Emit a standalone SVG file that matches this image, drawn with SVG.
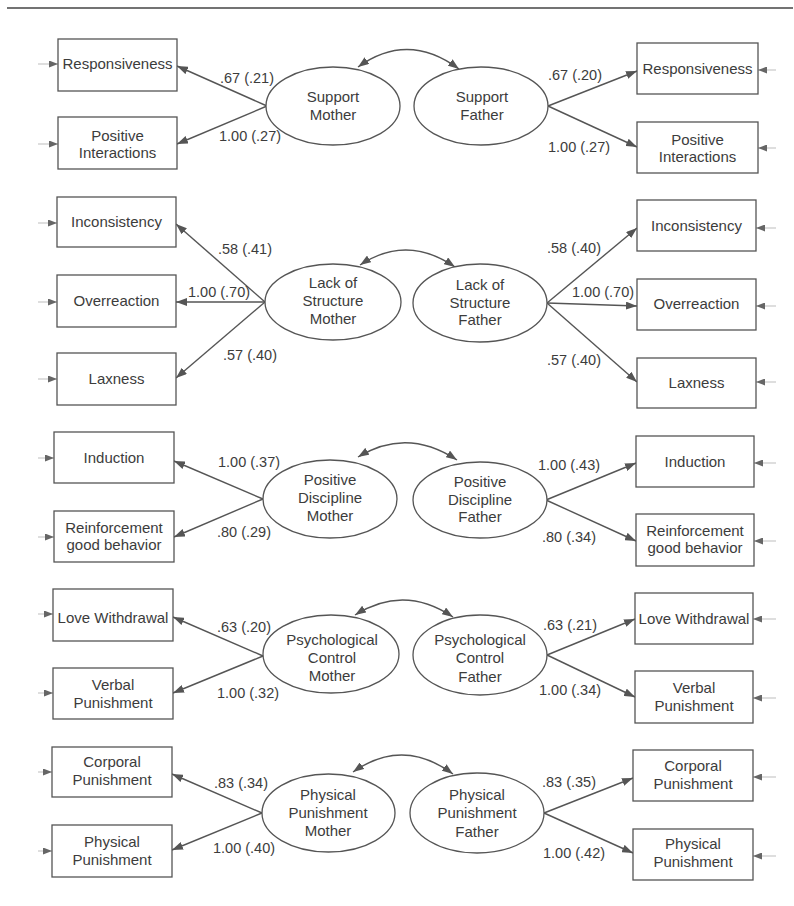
<svg xmlns="http://www.w3.org/2000/svg" width="794" height="906" viewBox="0 0 794 906">
<style>
text{font-family:"Liberation Sans",Arial,sans-serif;font-size:15px;fill:#3c3c3c}
.t{text-anchor:middle}
.lb{font-size:14.5px}
.box{fill:#fff;stroke:#555;stroke-width:1.3}
.lat{fill:#fff;stroke:#555;stroke-width:1.3}
.c{fill:none;stroke:#555;stroke-width:1.4}
.cc{fill:none;stroke:#555;stroke-width:1.4;marker-start:url(#ah);marker-end:url(#ah)}
.ld{marker-end:url(#ah)}
.st{fill:none;stroke:#c8c8c8;stroke-width:1.2;marker-end:url(#sh)}
</style>
<defs>
<marker id="ah" markerUnits="userSpaceOnUse" markerWidth="11" markerHeight="8" refX="11" refY="4" orient="auto-start-reverse"><path d="M0,0 L11,4 L0,8 z" fill="#555"/></marker>
<marker id="sh" markerUnits="userSpaceOnUse" markerWidth="9" markerHeight="7" refX="9" refY="3.5" orient="auto"><path d="M0,0 L9,3.5 L0,7 z" fill="#666"/></marker>
</defs>
<line x1="7" y1="8" x2="793" y2="8" stroke="#444" stroke-width="1.5"/>

<g id="connectors">
<!-- section 1 -->
<path class="cc" d="M358,67 Q408,31 459,69"/>
<line class="c ld" x1="267" y1="106" x2="177" y2="66"/>
<line class="c ld" x1="267" y1="106" x2="177" y2="144"/>
<line class="c ld" x1="548" y1="106" x2="637" y2="71"/>
<line class="c ld" x1="548" y1="106" x2="637" y2="147"/>
<!-- section 2 -->
<path class="cc" d="M360,265 Q407,234 455,267"/>
<line class="c ld" x1="265" y1="302" x2="176" y2="224"/>
<line class="c ld" x1="265" y1="302" x2="176" y2="302"/>
<line class="c ld" x1="265" y1="302" x2="176" y2="378"/>
<line class="c ld" x1="547" y1="303" x2="637" y2="228"/>
<line class="c ld" x1="547" y1="303" x2="637" y2="306"/>
<line class="c ld" x1="547" y1="303" x2="637" y2="382"/>
<!-- section 3 -->
<path class="cc" d="M358,457 Q407,427 457,460"/>
<line class="c ld" x1="263" y1="499" x2="174" y2="461"/>
<line class="c ld" x1="263" y1="499" x2="174" y2="537"/>
<line class="c ld" x1="546" y1="500" x2="636" y2="463"/>
<line class="c ld" x1="546" y1="500" x2="636" y2="541"/>
<!-- section 4 -->
<path class="cc" d="M355,615 Q404,584 453,617"/>
<line class="c ld" x1="263" y1="656" x2="173" y2="617"/>
<line class="c ld" x1="263" y1="656" x2="173" y2="693"/>
<line class="c ld" x1="547" y1="655" x2="635" y2="619"/>
<line class="c ld" x1="547" y1="655" x2="635" y2="697"/>
<!-- section 5 -->
<path class="cc" d="M353,772 Q403,737 453,774"/>
<line class="c ld" x1="262" y1="813" x2="172" y2="774"/>
<line class="c ld" x1="262" y1="813" x2="172" y2="850"/>
<line class="c ld" x1="544" y1="813" x2="633" y2="778"/>
<line class="c ld" x1="544" y1="813" x2="633" y2="853"/>
<!-- error stubs left -->
<line class="st" x1="38" y1="64" x2="58" y2="64"/>
<line class="st" x1="38" y1="144" x2="58" y2="144"/>
<line class="st" x1="38" y1="223" x2="57" y2="223"/>
<line class="st" x1="38" y1="302" x2="57" y2="302"/>
<line class="st" x1="38" y1="379" x2="57" y2="379"/>
<line class="st" x1="38" y1="458" x2="54" y2="458"/>
<line class="st" x1="38" y1="537" x2="54" y2="537"/>
<line class="st" x1="38" y1="614" x2="53" y2="614"/>
<line class="st" x1="38" y1="693" x2="53" y2="693"/>
<line class="st" x1="38" y1="772" x2="52" y2="772"/>
<line class="st" x1="38" y1="851" x2="52" y2="851"/>
<!-- error stubs right -->
<line class="st" x1="776" y1="70" x2="758" y2="70"/>
<line class="st" x1="776" y1="148" x2="758" y2="148"/>
<line class="st" x1="776" y1="228" x2="756" y2="228"/>
<line class="st" x1="776" y1="306" x2="756" y2="306"/>
<line class="st" x1="776" y1="382" x2="756" y2="382"/>
<line class="st" x1="776" y1="463" x2="754" y2="463"/>
<line class="st" x1="776" y1="541" x2="754" y2="541"/>
<line class="st" x1="776" y1="619" x2="753" y2="619"/>
<line class="st" x1="776" y1="698" x2="753" y2="698"/>
<line class="st" x1="776" y1="777" x2="753" y2="777"/>
<line class="st" x1="776" y1="856" x2="753" y2="856"/>
</g>

<g id="labels">
<text class="lb" x="220" y="83">.67 (.21)</text>
<text class="lb" x="219" y="141">1.00 (.27)</text>
<text class="lb" x="548" y="80">.67 (.20)</text>
<text class="lb" x="548" y="152">1.00 (.27)</text>
<text class="lb" x="218" y="254">.58 (.41)</text>
<text class="lb" x="188" y="297">1.00 (.70)</text>
<text class="lb" x="223" y="360">.57 (.40)</text>
<text class="lb" x="547" y="253">.58 (.40)</text>
<text class="lb" x="572" y="297">1.00 (.70)</text>
<text class="lb" x="547" y="365">.57 (.40)</text>
<text class="lb" x="218" y="467">1.00 (.37)</text>
<text class="lb" x="217" y="537">.80 (.29)</text>
<text class="lb" x="538" y="470">1.00 (.43)</text>
<text class="lb" x="542" y="542">.80 (.34)</text>
<text class="lb" x="217" y="632">.63 (.20)</text>
<text class="lb" x="217" y="698">1.00 (.32)</text>
<text class="lb" x="543" y="630">.63 (.21)</text>
<text class="lb" x="539" y="695">1.00 (.34)</text>
<text class="lb" x="214" y="788">.83 (.34)</text>
<text class="lb" x="213" y="853">1.00 (.40)</text>
<text class="lb" x="542" y="787">.83 (.35)</text>
<text class="lb" x="543" y="858">1.00 (.42)</text>
</g>

<!-- Section 1 -->
<g id="supportMother"><ellipse class="lat" cx="333" cy="106" rx="67" ry="39"/><text class="t" x="333" y="102">Support</text><text class="t" x="333" y="120">Mother</text></g>
<g id="supportFather"><ellipse class="lat" cx="481" cy="106" rx="67" ry="39"/><text class="t" x="482" y="102">Support</text><text class="t" x="482" y="120">Father</text></g>
<g id="respM"><rect class="box" x="58" y="39" width="119" height="52"/><text class="t" x="117.5" y="69">Responsiveness</text></g>
<g id="posIntM"><rect class="box" x="58" y="117" width="119" height="52"/><text class="t" x="117.5" y="141">Positive</text><text class="t" x="117.5" y="158">Interactions</text></g>
<g id="respF"><rect class="box" x="637" y="43" width="121" height="51"/><text class="t" x="697.5" y="74">Responsiveness</text></g>
<g id="posIntF"><rect class="box" x="637" y="122" width="121" height="51"/><text class="t" x="697.5" y="145">Positive</text><text class="t" x="697.5" y="162">Interactions</text></g>

<!-- Section 2 -->
<g id="lackM"><ellipse class="lat" cx="333" cy="302" rx="68" ry="38"/><text class="t" x="333" y="288">Lack of</text><text class="t" x="333" y="306">Structure</text><text class="t" x="333" y="324">Mother</text></g>
<g id="lackF"><ellipse class="lat" cx="480" cy="303" rx="67" ry="39"/><text class="t" x="480" y="290">Lack of</text><text class="t" x="480" y="308">Structure</text><text class="t" x="480" y="325">Father</text></g>
<g id="inconM"><rect class="box" x="57" y="197" width="119" height="50"/><text class="t" x="116.5" y="227">Inconsistency</text></g>
<g id="overM"><rect class="box" x="57" y="275" width="119" height="52"/><text class="t" x="116.5" y="306">Overreaction</text></g>
<g id="laxM"><rect class="box" x="57" y="353" width="119" height="52"/><text class="t" x="116.5" y="384">Laxness</text></g>
<g id="inconF"><rect class="box" x="637" y="200" width="119" height="51"/><text class="t" x="696.5" y="231">Inconsistency</text></g>
<g id="overF"><rect class="box" x="637" y="279" width="119" height="51"/><text class="t" x="696.5" y="309">Overreaction</text></g>
<g id="laxF"><rect class="box" x="637" y="358" width="119" height="50"/><text class="t" x="696.5" y="388">Laxness</text></g>

<!-- Section 3 -->
<g id="posDiscM"><ellipse class="lat" cx="330" cy="499" rx="67" ry="39"/><text class="t" x="330" y="485">Positive</text><text class="t" x="330" y="503">Discipline</text><text class="t" x="330" y="521">Mother</text></g>
<g id="posDiscF"><ellipse class="lat" cx="480" cy="500" rx="67" ry="38"/><text class="t" x="480" y="487">Positive</text><text class="t" x="480" y="505">Discipline</text><text class="t" x="480" y="522">Father</text></g>
<g id="indM"><rect class="box" x="54" y="432" width="120" height="51"/><text class="t" x="114" y="463">Induction</text></g>
<g id="reinfM"><rect class="box" x="54" y="511" width="120" height="51"/><text class="t" x="114" y="533">Reinforcement</text><text class="t" x="114" y="550">good behavior</text></g>
<g id="indF"><rect class="box" x="636" y="436" width="118" height="51"/><text class="t" x="695" y="467">Induction</text></g>
<g id="reinfF"><rect class="box" x="636" y="514" width="118" height="52"/><text class="t" x="695" y="536">Reinforcement</text><text class="t" x="695" y="553">good behavior</text></g>

<!-- Section 4 -->
<g id="psyM"><ellipse class="lat" cx="331" cy="654" rx="68" ry="39"/><text class="t" x="332" y="645">Psychological</text><text class="t" x="332" y="663">Control</text><text class="t" x="332" y="681">Mother</text></g>
<g id="psyF"><ellipse class="lat" cx="480" cy="655" rx="67" ry="40"/><text class="t" x="480" y="645">Psychological</text><text class="t" x="480" y="663">Control</text><text class="t" x="480" y="682">Father</text></g>
<g id="loveM"><rect class="box" x="53" y="589" width="120" height="52"/><text class="t" x="113" y="623">Love Withdrawal</text></g>
<g id="verbM"><rect class="box" x="53" y="668" width="120" height="51"/><text class="t" x="113" y="690">Verbal</text><text class="t" x="113" y="708">Punishment</text></g>
<g id="loveF"><rect class="box" x="635" y="593" width="118" height="51"/><text class="t" x="694" y="624">Love Withdrawal</text></g>
<g id="verbF"><rect class="box" x="635" y="671" width="118" height="52"/><text class="t" x="694" y="693">Verbal</text><text class="t" x="694" y="711">Punishment</text></g>

<!-- Section 5 -->
<g id="physM"><ellipse class="lat" cx="328.5" cy="813" rx="66.5" ry="39"/><text class="t" x="328" y="800">Physical</text><text class="t" x="328" y="818">Punishment</text><text class="t" x="328" y="836">Mother</text></g>
<g id="physF"><ellipse class="lat" cx="477" cy="813" rx="67" ry="40"/><text class="t" x="477" y="800">Physical</text><text class="t" x="477" y="818">Punishment</text><text class="t" x="477" y="837">Father</text></g>
<g id="corpM"><rect class="box" x="52" y="747" width="120" height="50"/><text class="t" x="112" y="767">Corporal</text><text class="t" x="112" y="785">Punishment</text></g>
<g id="physPM"><rect class="box" x="52" y="825" width="120" height="52"/><text class="t" x="112" y="847">Physical</text><text class="t" x="112" y="865">Punishment</text></g>
<g id="corpF"><rect class="box" x="633" y="750" width="120" height="51"/><text class="t" x="693" y="771">Corporal</text><text class="t" x="693" y="789">Punishment</text></g>
<g id="physPF"><rect class="box" x="633" y="829" width="120" height="51"/><text class="t" x="693" y="849">Physical</text><text class="t" x="693" y="867">Punishment</text></g>
</svg>
